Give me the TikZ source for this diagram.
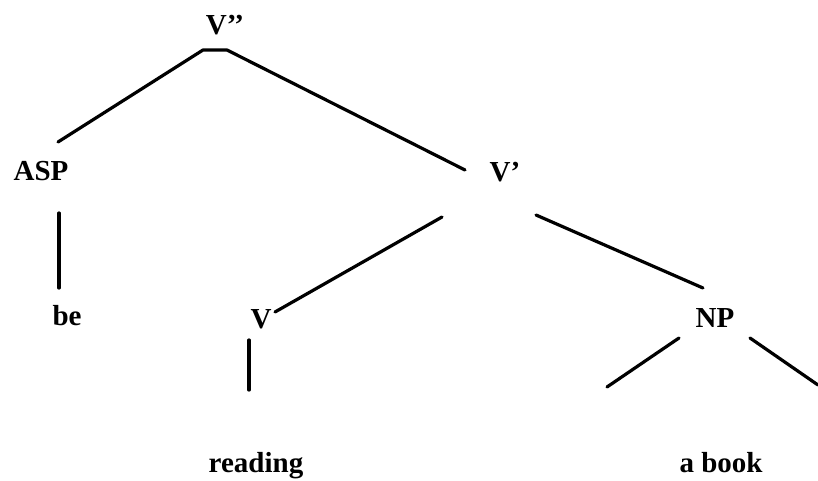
\documentclass[tikz,border=0pt]{standalone}
\usepackage{fontspec}
\setmainfont{Liberation Serif}
\begin{document}
\begin{tikzpicture}[x=1pt,y=-1pt,
  lbl/.style={font=\fontsize{29}{30}\selectfont\bfseries, anchor=base, inner sep=0pt},
  branch/.style={line width=3.2pt, line cap=round, line join=round}]
\useasboundingbox (0,0) rectangle (818,481);
% labels
\node[lbl] (Vpp) at (225,35) {V’’};
\node[lbl] (ASP) at (41,180) {ASP};
\node[lbl] (Vp) at (505,182) {V’};
\node[lbl] (be) at (67,325) {be};
\node[lbl] (V) at (261,328) {V};
\node[lbl] (NP) at (715,327) {NP};
\node[lbl] (reading) at (256,472) {reading};
\node[lbl] (abook) at (721,472) {a book};
% branch end points
\coordinate (vppL) at (58,142);
\coordinate (vppA) at (203,50);
\coordinate (vppB) at (227,50);
\coordinate (vppR) at (465,170);
\coordinate (aspT) at (59,213);
\coordinate (aspB) at (59,288);
\coordinate (vpL1) at (442,217);
\coordinate (vpL2) at (275,312);
\coordinate (vpR1) at (536,215);
\coordinate (vpR2) at (703,288);
\coordinate (vT) at (249,340);
\coordinate (vB) at (249,390);
\coordinate (npL1) at (679,338);
\coordinate (npL2) at (607,387);
\coordinate (npR1) at (750,338);
\coordinate (npR2) at (818,385);
% branches
\draw[branch] (vppL) -- (vppA) -- (vppB) -- (vppR);
\draw[branch] (aspT) -- (aspB);
\draw[branch] (vpL1) -- (vpL2);
\draw[branch] (vpR1) -- (vpR2);
\draw[branch] (vT) -- (vB);
\draw[branch] (npL1) -- (npL2);
\draw[branch] (npR1) -- (npR2);
\end{tikzpicture}
\end{document}
